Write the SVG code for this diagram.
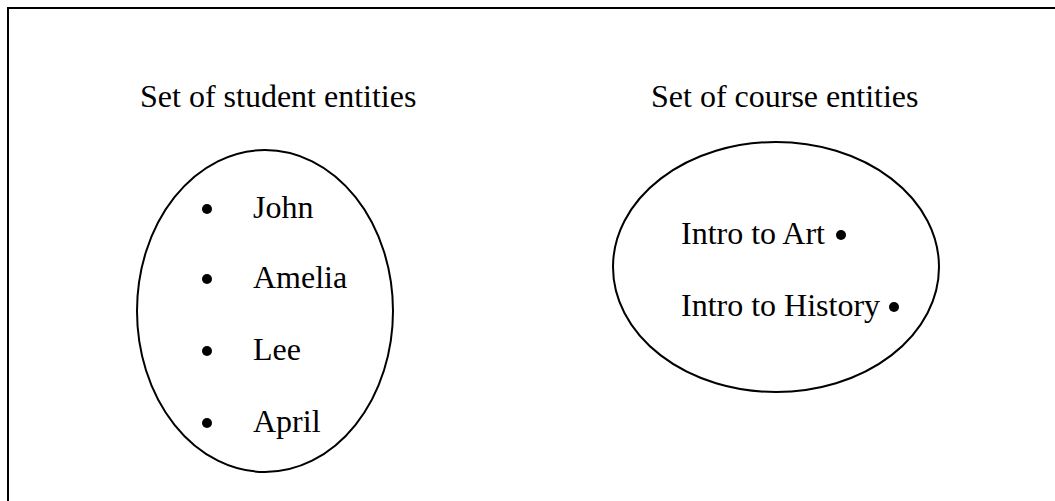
<svg xmlns="http://www.w3.org/2000/svg" width="1055" height="501" viewBox="0 0 1055 501">
<style>
text{font-family:"Liberation Serif","Times New Roman",serif;font-size:32px;fill:#000}
.set{fill:none;stroke:#000;stroke-width:2}
.dot{fill:#000}
</style>
<rect x="0" y="0" width="1055" height="501" fill="#fff"/>
<rect x="8" y="8" width="1060" height="510" fill="none" stroke="#000" stroke-width="2"/>
<g id="students">
<text x="140" y="107">Set of student entities</text>
<ellipse class="set" cx="265" cy="311" rx="128" ry="161"/>
<circle class="dot" cx="207" cy="209" r="5"/><text x="253" y="218">John</text>
<circle class="dot" cx="207" cy="279" r="5"/><text x="253" y="288">Amelia</text>
<circle class="dot" cx="207" cy="351" r="5"/><text x="253" y="360">Lee</text>
<circle class="dot" cx="207" cy="423" r="5"/><text x="253" y="432">April</text>
</g>
<g id="courses">
<text x="651" y="107">Set of course entities</text>
<ellipse class="set" cx="776" cy="267" rx="163" ry="125"/>
<text x="681" y="244">Intro to Art</text><circle class="dot" cx="841" cy="235" r="5"/>
<text x="681" y="316">Intro to History</text><circle class="dot" cx="894" cy="307" r="5"/>
</g>
<g id="connectors"></g>
</svg>
